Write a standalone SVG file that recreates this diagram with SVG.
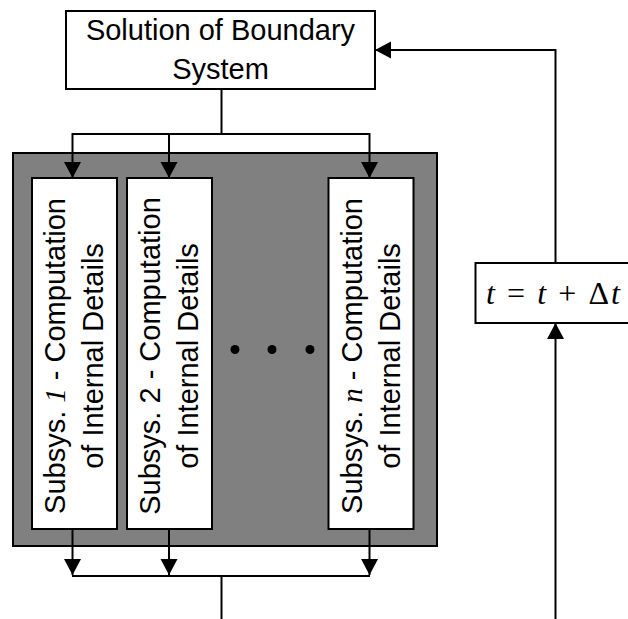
<svg xmlns="http://www.w3.org/2000/svg" width="628" height="619" viewBox="0 0 628 619">
  <style>
    .box { fill: #ffffff; stroke: #000000; stroke-width: 2; }
    .outer { fill: #808080; stroke: #000000; stroke-width: 2; }
    .conn { fill: none; stroke: #000000; stroke-width: 2; }
    .lbl { font-family: "Liberation Sans", Arial, sans-serif; font-size: 29px; fill: #000000; }
    .math { font-family: "Liberation Serif", "Times New Roman", serif; font-style: italic; }
    .eq { font-family: "Liberation Serif", "Times New Roman", serif; font-size: 32px; fill: #000000; }
  </style>
  <defs>
    <marker id="arrow" markerUnits="userSpaceOnUse" markerWidth="17" markerHeight="17" refX="16" refY="8.5" orient="auto" overflow="visible">
      <path d="M0,0 L16,8.5 L0,17 z" fill="#000000"/>
    </marker>
  </defs>

  <g id="parallel-container">
    <rect class="outer" x="13" y="153" width="424" height="393"/>
  </g>

  <g id="boundary-system">
    <rect class="box" x="66" y="11" width="309" height="78"/>
    <text class="lbl" x="220.5" y="40" text-anchor="middle">Solution of Boundary</text>
    <text class="lbl" x="220.5" y="79" text-anchor="middle">System</text>
  </g>

  <g id="subsys-1">
    <rect class="box" x="32" y="178" width="85" height="351"/>
    <g transform="translate(65,356) rotate(-90)">
      <text class="lbl" x="0" y="0" text-anchor="middle">Subsys. <tspan class="math">1</tspan> - Computation</text>
      <text class="lbl" x="0" y="38" text-anchor="middle">of Internal Details</text>
    </g>
  </g>

  <g id="subsys-2">
    <rect class="box" x="127" y="178" width="85" height="351"/>
    <g transform="translate(160,356) rotate(-90)">
      <text class="lbl" x="0" y="0" text-anchor="middle">Subsys. 2 - Computation</text>
      <text class="lbl" x="0" y="38" text-anchor="middle">of Internal Details</text>
    </g>
  </g>

  <g id="ellipsis">
    <circle cx="235" cy="349.5" r="4.5" fill="#000000"/>
    <circle cx="272" cy="349.5" r="4.5" fill="#000000"/>
    <circle cx="310" cy="349.5" r="4.5" fill="#000000"/>
  </g>

  <g id="subsys-n">
    <rect class="box" x="328.5" y="178" width="85" height="351"/>
    <g transform="translate(362,356) rotate(-90)">
      <text class="lbl" x="0" y="0" text-anchor="middle">Subsys. <tspan class="math">n</tspan> - Computation</text>
      <text class="lbl" x="0" y="38" text-anchor="middle">of Internal Details</text>
    </g>
  </g>

  <g id="time-step">
    <rect class="box" x="475.5" y="263" width="156" height="60"/>
    <text class="eq" x="486" y="304" textLength="134" lengthAdjust="spacing"><tspan class="math">t</tspan> = <tspan class="math">t</tspan> + Δ<tspan class="math">t</tspan></text>
  </g>

  <g id="connectors">
    <!-- fan-out from boundary system -->
    <path class="conn" d="M221.5,89 V134"/>
    <path class="conn" d="M72,134 H370"/>
    <path class="conn" d="M72.5,133 V178" marker-end="url(#arrow)"/>
    <path class="conn" d="M169,133 V178" marker-end="url(#arrow)"/>
    <path class="conn" d="M369.5,133 V178" marker-end="url(#arrow)"/>
    <!-- fan-in below subsystems -->
    <path class="conn" d="M72.5,529 V575" marker-end="url(#arrow)"/>
    <path class="conn" d="M169,529 V575" marker-end="url(#arrow)"/>
    <path class="conn" d="M369.5,529 V575" marker-end="url(#arrow)"/>
    <path class="conn" d="M72,576 H370"/>
    <path class="conn" d="M221.5,576 V619"/>
    <!-- time loop -->
    <path class="conn" d="M555.5,619 V323" marker-end="url(#arrow)"/>
    <path class="conn" d="M555.5,263 V50 H375" marker-end="url(#arrow)"/>
  </g>
</svg>
